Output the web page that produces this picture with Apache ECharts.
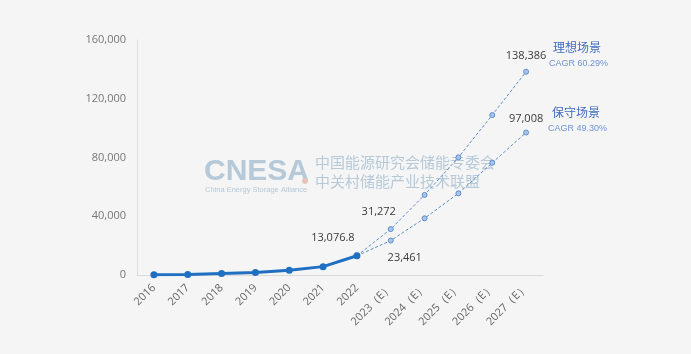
<!DOCTYPE html>
<html>
<head>
<meta charset="utf-8">
<script src="https://cdn.jsdelivr.net/npm/echarts@6/dist/echarts.min.js"></script>
<style>
  html, body { margin: 0; padding: 0; background: #f5f5f5; }
  #chart { width: 691px; height: 354px; }
</style>
</head>
<body>
<div id="chart"></div>
<script>
const years = ['2016', '2017', '2018', '2019', '2020', '2021', '2022',
  '2023（E）', '2024（E）', '2025（E）', '2026（E）', '2027（E）']
const actual = [150, 300, 1000, 1700, 3300, 5700, 13076.8]
const ideal = [null, null, null, null, null, null, 13076.8, 31272, 54500, 80100, 108900, 138386]
const conservative = [null, null, null, null, null, null, 13076.8, 23461, 38600, 55600, 76400, 97008]
const yTicks = [0, 40000, 80000, 120000, 160000]

const fmt = v => v === 13076.8 ? '13,076.8' : v.toLocaleString('en-US')
const labelColor = '#3a3a3a'
const font = ['Open Sans', 'Noto Sans', 'sans-serif']

// labels only on a few points
const withLabels = (arr, marks) => arr.map((v, i) => {
  if (marks[i]) return { value: v, label: Object.assign({ show: true, color: labelColor, fontSize: 11, fontFamily: font, formatter: p => fmt(p.value) }, marks[i]) }
  return v
})

const chart = echarts.init(document.getElementById('chart'))
chart.setOption({
  backgroundColor: '#f5f5f5',
  animation: false,
  textStyle: { fontFamily: font },
  grid: { left: 137, right: 148, top: 40, bottom: 79 },
  xAxis: {
    type: 'category',
    data: years,
    boundaryGap: true,
    axisLine: { lineStyle: { color: '#d9d9d9' } },
    axisTick: { show: false },
    axisLabel: { rotate: 45, color: '#666', fontSize: 11, margin: 11, interval: 0 }
  },
  yAxis: {
    type: 'value',
    min: yTicks[0],
    max: yTicks[yTicks.length - 1],
    interval: 40000,
    axisLine: { show: true, lineStyle: { color: '#dcdcdc' } },
    axisTick: { show: false },
    splitLine: { show: false },
    axisLabel: { color: '#777', fontSize: 11, margin: 11, formatter: v => v.toLocaleString('en-US') }
  },
  graphic: [
    { type: 'text', left: 204, top: 157, style: { text: 'CNESA', fontSize: 30, fontWeight: 'bold', fill: '#b6c9d8', fontFamily: 'Liberation Sans' } },
    { type: 'circle', shape: { cx: 305, cy: 181, r: 3 }, style: { fill: '#e8c4b8' } },
    { type: 'text', left: 205, top: 186, style: { text: 'China Energy Storage Alliance', fontSize: 7.5, fill: '#b6c9d8', fontFamily: 'Liberation Sans' } },
    { type: 'text', left: 315, top: 155, style: { text: '中国能源研究会储能专委会', fontSize: 15, fill: '#b6c9d8', fontFamily: 'Noto Sans CJK SC' } },
    { type: 'text', left: 315, top: 174, style: { text: '中关村储能产业技术联盟', fontSize: 15, fill: '#b6c9d8', fontFamily: 'Noto Sans CJK SC', letterSpacing: 1.5 } },
    { type: 'text', left: 553, top: 41, style: { text: '理想场景', fontSize: 12, fill: '#3f6cc0', fontFamily: 'Noto Sans CJK SC' } },
    { type: 'text', left: 549, top: 59, style: { text: 'CAGR 60.29%', fontSize: 9, fill: '#6e93d6' } },
    { type: 'text', left: 552, top: 106, style: { text: '保守场景', fontSize: 12, fill: '#3f6cc0', fontFamily: 'Noto Sans CJK SC' } },
    { type: 'text', left: 548, top: 124, style: { text: 'CAGR 49.30%', fontSize: 9, fill: '#6e93d6' } }
  ],
  series: [
    {
      name: '理想场景',
      type: 'line',
      data: withLabels(ideal, { 7: { position: 'top', offset: [-12, -4] }, 11: { position: 'top', offset: [0, -2] } }),
      symbol: 'circle',
      symbolSize: 5,
      itemStyle: { color: '#a9c4e8', borderColor: '#5b8fd0', borderWidth: 1 },
      lineStyle: { color: '#5b8fd0', width: 1, type: [3, 2] },
      z: 2
    },
    {
      name: '保守场景',
      type: 'line',
      data: withLabels(conservative, { 7: { position: 'bottom', offset: [14, 4] }, 11: { position: 'top', offset: [0, 0] } }),
      symbol: 'circle',
      symbolSize: 5,
      itemStyle: { color: '#a9c4e8', borderColor: '#5b8fd0', borderWidth: 1 },
      lineStyle: { color: '#5b8fd0', width: 1, type: [3, 2] },
      z: 2
    },
    {
      name: '实际',
      type: 'line',
      data: withLabels(actual, { 6: { position: 'top', offset: [-24, -4] } }),
      symbol: 'circle',
      symbolSize: 7,
      itemStyle: { color: '#1f6fc2' },
      lineStyle: { color: '#1f6fc2', width: 3 },
      z: 3
    }
  ]
})
</script>
</body>
</html>
